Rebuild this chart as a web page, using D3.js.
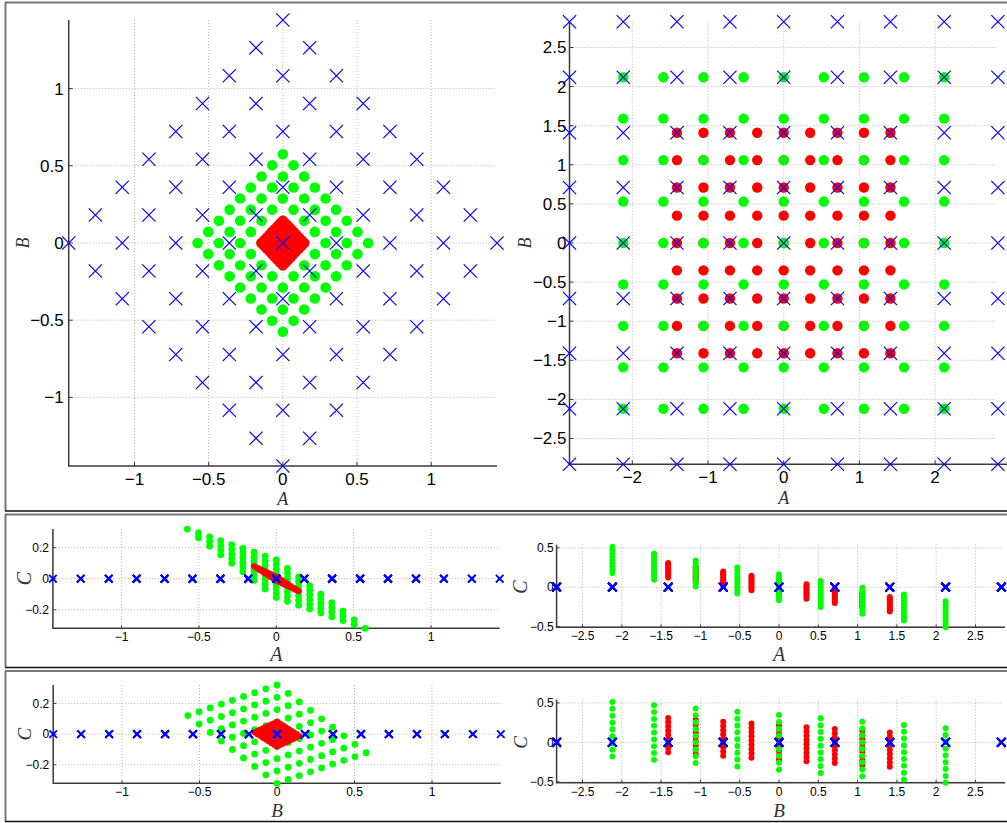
<!DOCTYPE html>
<html>
<head>
<meta charset="utf-8">
<script src="https://cdn.jsdelivr.net/npm/d3@7"></script>
<style>
  body { margin: 0; background: #fff; }
  svg { display: block; }
</style>
</head>
<body>
<div class="chart"></div>
<script>
// DATA ------------------------------------
// left column: rotated lattices (i + j even, |i| + |j| <= 8)
const leftBlueLv = [-1.444, -1.264, -1.083, -0.903, -0.722, -0.542, -0.361, -0.181, 0, 0.181, 0.361, 0.542, 0.722, 0.903, 1.083, 1.264, 1.444]
const leftGreenLv = [-0.575, -0.503, -0.431, -0.359, -0.288, -0.216, -0.144, -0.072, 0, 0.072, 0.144, 0.216, 0.288, 0.359, 0.431, 0.503, 0.575]
const leftRedLv = [-0.144, -0.126, -0.108, -0.090, -0.072, -0.054, -0.036, -0.018, 0, 0.018, 0.036, 0.054, 0.072, 0.090, 0.108, 0.126, 0.144]
// C contribution of each A level and each B level
const leftGreenCA = [0.320, 0.280, 0.240, 0.200, 0.160, 0.120, 0.080, 0.040, 0, -0.040, -0.080, -0.120, -0.160, -0.200, -0.240, -0.280, -0.320]
const leftGreenCB = [0.121, 0.106, 0.091, 0.075, 0.060, 0.045, 0.030, 0.015, 0, -0.015, -0.030, -0.045, -0.060, -0.075, -0.091, -0.106, -0.121]
const leftRedCA = [0.080, 0.070, 0.060, 0.050, 0.040, 0.030, 0.020, 0.010, 0, -0.010, -0.020, -0.030, -0.040, -0.050, -0.060, -0.070, -0.080]
const leftRedCB = [0.012, 0.010, 0.009, 0.007, 0.006, 0.004, 0.003, 0.001, 0, -0.001, -0.003, -0.004, -0.006, -0.007, -0.009, -0.010, -0.012]

// right column: full 9 x 9 lattices
const rightBlueLv = [-2.83, -2.12, -1.41, -0.71, 0, 0.71, 1.41, 2.12, 2.83]
const rightGreenLv = [-2.12, -1.59, -1.06, -0.53, 0, 0.53, 1.06, 1.59, 2.12]
const rightRedLv = [-1.41, -1.06, -0.71, -0.35, 0, 0.35, 0.71, 1.06, 1.41]
const rightGreenCA = [0.345, 0.259, 0.173, 0.086, 0, -0.086, -0.173, -0.259, -0.345]
const rightGreenCB = [0.165, 0.124, 0.083, 0.041, 0, -0.041, -0.083, -0.124, -0.165]
const rightRedCA = [0.216, 0.162, 0.108, 0.054, 0, -0.054, -0.108, -0.162, -0.216]
const rightRedCB = [0.092, 0.069, 0.046, 0.023, 0, -0.023, -0.046, -0.069, -0.092]

// ticks
const leftTicksAB = [-1, -0.5, 0, 0.5, 1]
const leftTicksC = [-0.2, 0, 0.2]
const rightTicksA = [-2, -1, 0, 1, 2]
const rightTicksB = [-2.5, -2, -1.5, -1, -0.5, 0, 0.5, 1, 1.5, 2, 2.5]
const rightTicksLow = [-2.5, -2, -1.5, -1, -0.5, 0, 0.5, 1, 1.5, 2, 2.5]
const rightTicksC = [-0.5, 0, 0.5]

// POINT SETS ------------------------------
function rotated(lv, cA, cB) {
    const pts = []
    lv.forEach((a, i) => lv.forEach((b, j) => {
        if ((i + j) % 2 === 0 && Math.abs(i - 8) + Math.abs(j - 8) <= 8)
            pts.push({ a: a, b: b, c: cA ? cA[i] + cB[j] : 0 })
    }))
    return pts
}
function square(lv, cA, cB) {
    const pts = []
    lv.forEach((a, i) => lv.forEach((b, j) => {
        pts.push({ a: a, b: b, c: cA ? cA[i] + cB[j] : 0 })
    }))
    return pts
}

const leftBlue = rotated(leftBlueLv)
const leftGreen = rotated(leftGreenLv, leftGreenCA, leftGreenCB)
const leftRed = rotated(leftRedLv, leftRedCA, leftRedCB)
const rightBlue = square(rightBlueLv)
const rightGreen = square(rightGreenLv, rightGreenCA, rightGreenCB)
const rightRed = square(rightRedLv, rightRedCA, rightRedCB)

// CHART INIT ------------------------------
const svg = d3.select('.chart')
    .append('svg')
    .attr('width', 1007)
    .attr('height', 823)

svg.append('rect').attr('width', 1007).attr('height', 823).attr('fill', '#fff')

// panel frames
const frames = [[2.5, 511], [514.5, 667.5], [671, 821.5]]
frames.forEach(f => {
    svg.append('line').attr('x1', 5).attr('x2', 1007).attr('y1', f[0]).attr('y2', f[0])
        .attr('stroke', '#777').attr('stroke-width', 2)
    svg.append('line').attr('x1', 5.5).attr('x2', 5.5).attr('y1', f[0]).attr('y2', f[1])
        .attr('stroke', '#777').attr('stroke-width', 2)
    svg.append('line').attr('x1', 5).attr('x2', 1007).attr('y1', f[1]).attr('y2', f[1])
        .attr('stroke', '#111').attr('stroke-width', 1.3)
})

const fmt = v => (v < 0 ? '\u2212' : '') + Math.abs(v)

function panel(p) {
    const x = d3.scaleLinear().domain(p.xd).range(p.xr)
    const y = d3.scaleLinear().domain(p.yd).range(p.yr)
    const g = svg.append('g')
    const gx1 = p.xEnd || p.xr[1]

    // grid
    g.selectAll('.vg').data(p.xt).enter().append('line')
        .attr('x1', d => x(d)).attr('x2', d => x(d))
        .attr('y1', p.yr[1]).attr('y2', p.yr[0])
        .attr('stroke', '#b4b4b4').attr('stroke-dasharray', '1,2')
    g.selectAll('.hg').data(p.yt).enter().append('line')
        .attr('x1', p.xr[0]).attr('x2', p.gridEnd || p.xr[1])
        .attr('y1', d => y(d)).attr('y2', d => y(d))
        .attr('stroke', '#b4b4b4').attr('stroke-dasharray', '1,2')

    // axes
    g.append('path')
        .attr('d', `M${p.xr[0]},${p.yr[1]}V${p.yr[0]}H${gx1}`)
        .attr('fill', 'none').attr('stroke', '#3a3a3a').attr('stroke-width', 1.5)
    g.selectAll('.xt').data(p.xt).enter().append('line')
        .attr('x1', d => x(d)).attr('x2', d => x(d))
        .attr('y1', p.yr[0]).attr('y2', p.yr[0] - p.tick)
        .attr('stroke', '#3a3a3a')
    g.selectAll('.yt').data(p.yt).enter().append('line')
        .attr('x1', p.xr[0]).attr('x2', p.xr[0] + p.tick)
        .attr('y1', d => y(d)).attr('y2', d => y(d))
        .attr('stroke', '#3a3a3a')

    g.selectAll('.xl').data(p.xt).enter().append('text')
        .attr('x', d => x(d)).attr('y', p.yr[0] + p.xlOff)
        .attr('text-anchor', 'middle')
        .attr('font-family', 'Liberation Sans, Arial, sans-serif')
        .attr('font-size', p.fs)
        .text(fmt)
    g.selectAll('.yl').data(p.yt).enter().append('text')
        .attr('x', p.xr[0] - p.ylOff).attr('y', d => y(d))
        .attr('dy', '0.35em')
        .attr('text-anchor', 'end')
        .attr('font-family', 'Liberation Sans, Arial, sans-serif')
        .attr('font-size', p.fs)
        .text(fmt)

    // axis titles
    g.append('text')
        .attr('x', x(0)).attr('y', p.xTitleY)
        .attr('text-anchor', 'middle')
        .attr('font-family', 'Liberation Serif, Times New Roman, serif')
        .attr('font-style', 'italic')
        .attr('font-size', p.tfs)
        .attr('fill', '#333')
        .text(p.xName)
    g.append('text')
        .attr('transform', `translate(${p.yTitleX},${y(0)}) rotate(-90)`)
        .attr('text-anchor', 'middle')
        .attr('dy', '0.35em')
        .attr('font-family', 'Liberation Serif, Times New Roman, serif')
        .attr('font-style', 'italic')
        .attr('font-size', p.tfs)
        .attr('fill', '#333')
        .text(p.yName)

    // marks
    p.dots.forEach(s => {
        g.selectAll(null).data(s.data).enter().append('circle')
            .attr('cx', d => x(d[p.xk]))
            .attr('cy', d => y(d[p.yk]))
            .attr('r', s.r || p.r)
            .attr('fill', s.color)
    })
    const k = p.xs
    g.selectAll(null).data(p.cross).enter().append('path')
        .attr('d', d => {
            const cx = x(d[p.xk]), cy = y(d[p.yk])
            return `M${cx - k},${cy - k}L${cx + k},${cy + k}M${cx - k},${cy + k}L${cx + k},${cy - k}`
        })
        .attr('stroke', '#0000ff')
        .attr('stroke-width', p.xw)
        .attr('fill', 'none')
}

const leftDots = [{ data: leftGreen, color: '#00ff00' }, { data: leftRed, color: '#ff0000' }]
const leftDotsLow = [{ data: leftGreen, color: '#00ff00' }, { data: leftRed, color: '#ff0000', r: 3.1 }]
const rightDots = [{ data: rightRed, color: '#ff0000' }, { data: rightGreen, color: '#00ff00' }]

// top row: A vs B
panel({
    xd: [-1.444, 1.444], xr: [68.7, 497], yd: [-1.444, 1.444], yr: [466, 20],
    xt: leftTicksAB, yt: leftTicksAB, xk: 'a', yk: 'b',
    tick: 4, fs: 17, xlOff: 18.5, ylOff: 5, tfs: 18, xName: 'A', yName: 'B',
    xTitleY: 504.5, yTitleX: 23, gridEnd: 495,
    dots: leftDots, cross: leftBlue, r: 5.3, xs: 6.6, xw: 1.2
})
panel({
    xd: [-2.83, 2.83], xr: [569.5, 997.9], yd: [-2.83, 2.83], yr: [464.3, 21.7],
    xt: rightTicksA, yt: rightTicksB, xk: 'a', yk: 'b',
    tick: 4, fs: 17, xlOff: 18.5, ylOff: 3, tfs: 18, xName: 'A', yName: 'B',
    xTitleY: 504, yTitleX: 525, xEnd: 1007, gridEnd: 996,
    dots: rightDots, cross: rightBlue, r: 5.2, xs: 6.6, xw: 1.2
})

// middle row: A vs C
panel({
    xd: [-1.444, 1.444], xr: [52.9, 499.7], yd: [-0.32, 0.32], yr: [628.3, 529.1],
    xt: leftTicksAB, yt: leftTicksC, xk: 'a', yk: 'c',
    tick: 3, fs: 12, xlOff: 12.5, ylOff: 4, tfs: 20, xName: 'A', yName: 'C',
    xTitleY: 660.5, yTitleX: 24,
    dots: leftDotsLow, cross: leftBlue, r: 3.4, xs: 3.8, xw: 1.8
})
panel({
    xd: [-2.83, 2.83], xr: [556.6, 1001.4], yd: [-0.51, 0.54], yr: [627.3, 544.7],
    xt: rightTicksLow, yt: rightTicksC, xk: 'a', yk: 'c',
    tick: 3, fs: 12, xlOff: 12.5, ylOff: 3, tfs: 20, xName: 'A', yName: 'C',
    xTitleY: 660.5, yTitleX: 520, xEnd: 1005,
    dots: rightDots, cross: rightBlue, r: 3, xs: 4.2, xw: 1.8
})

// bottom row: B vs C
panel({
    xd: [-1.444, 1.444], xr: [53.2, 500.8], yd: [-0.32, 0.32], yr: [783.3, 685],
    xt: leftTicksAB, yt: leftTicksC, xk: 'b', yk: 'c',
    tick: 3, fs: 12, xlOff: 12.5, ylOff: 4, tfs: 19, xName: 'B', yName: 'C',
    xTitleY: 816.5, yTitleX: 24,
    dots: leftDotsLow, cross: leftBlue, r: 3.4, xs: 3.8, xw: 1.8
})
panel({
    xd: [-2.83, 2.83], xr: [556.6, 1001.4], yd: [-0.51, 0.54], yr: [782.7, 699.7],
    xt: rightTicksLow, yt: rightTicksC, xk: 'b', yk: 'c',
    tick: 3, fs: 12, xlOff: 13, ylOff: 3, tfs: 19, xName: 'B', yName: 'C',
    xTitleY: 816.5, yTitleX: 520, xEnd: 1005,
    dots: rightDots, cross: rightBlue, r: 3, xs: 4.2, xw: 1.8
})
</script>
</body>
</html>
